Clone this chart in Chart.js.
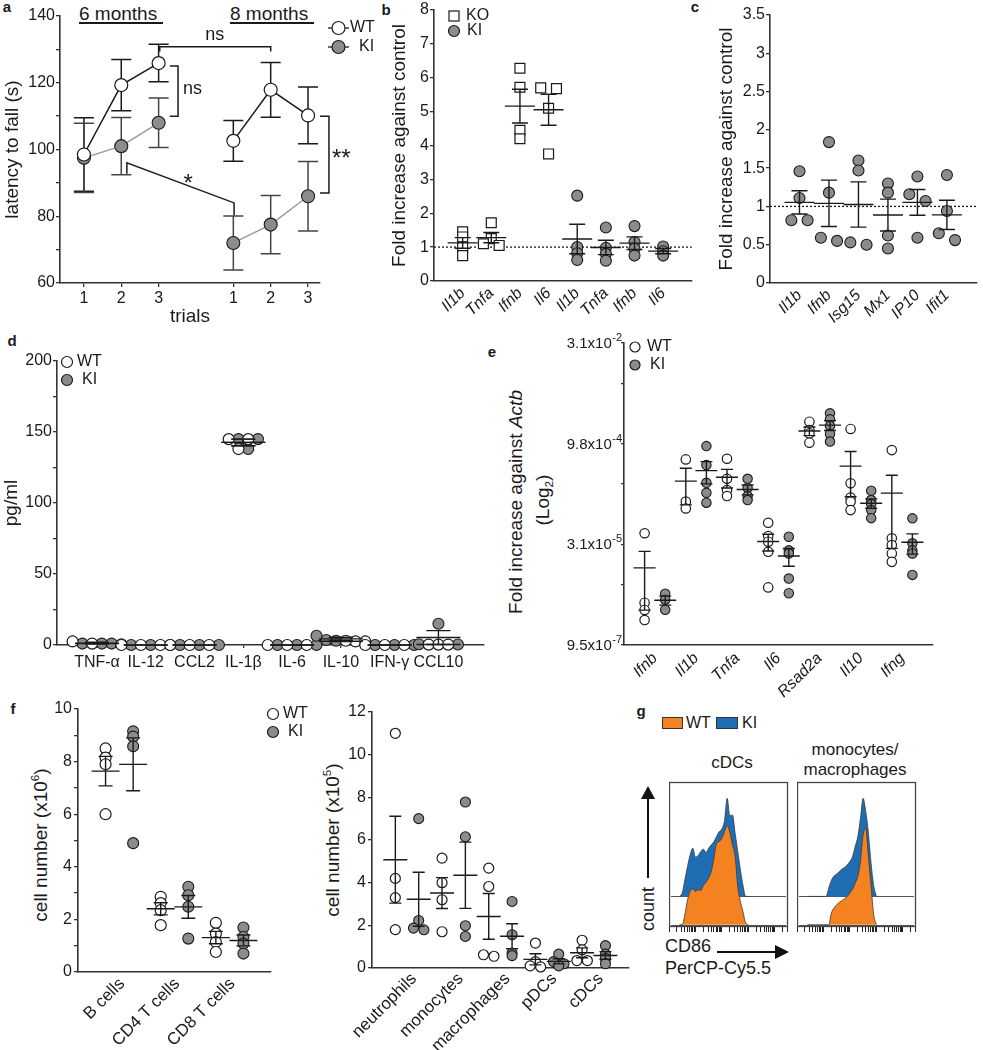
<!DOCTYPE html>
<html>
<head>
<meta charset="utf-8">
<title>Figure</title>
<script src="https://cdn.jsdelivr.net/npm/chart.js@4.4.1/dist/chart.umd.min.js"></script>
<style>
  body { margin: 0; background: #fff; }
  #fig { position: relative; width: 983px; height: 1050px; overflow: hidden; font-family: "Liberation Sans", Arial, Helvetica, sans-serif; color: #1a1a1a; }
  #fig canvas { position: absolute; }
  .t { position: absolute; white-space: nowrap; line-height: 1; transform: translate(-50%, -50%); }
  .l { transform: translate(0, -50%); }
  .r { transform: translate(-50%, -50%) rotate(-90deg); }
  .b { font-weight: bold; }
  sup, sub { font-size: 0.62em; line-height: 0; }
  #ov { position: absolute; left: 0; top: 0; }
</style>
</head>
<body>
<div id="fig">
  <div class="t b" style="left:7px;top:6px;font-size:15px">a</div>
  <div class="t b" style="left:386px;top:9px;font-size:15px">b</div>
  <div class="t b" style="left:695px;top:6px;font-size:15px">c</div>
  <div class="t b" style="left:12px;top:340px;font-size:15px">d</div>
  <div class="t b" style="left:492px;top:351px;font-size:15px">e</div>
  <div class="t b" style="left:13px;top:708px;font-size:15px">f</div>
  <div class="t b" style="left:641px;top:710px;font-size:15px">g</div>

  <div class="t l" style="left:79px;top:13px;font-size:19px">6 months</div>
  <div style="position:absolute;left:79px;top:22px;width:84px;height:1.5px;background:#1a1a1a"></div>
  <div class="t l" style="left:230px;top:13px;font-size:19px">8 months</div>
  <div style="position:absolute;left:230px;top:22px;width:84px;height:1.5px;background:#1a1a1a"></div>

  <div class="t r" style="left:515px;top:502px;font-size:19px">Fold increase against <i>Actb</i></div>
  <div class="t r" style="left:542px;top:500px;font-size:19px">(Log<sub>2</sub>)</div>
  <div class="t r" style="left:40px;top:845px;font-size:19px">cell number (x10<sup>6</sup>)</div>
  <div class="t r" style="left:332px;top:840px;font-size:19px">cell number (x10<sup>5</sup>)</div>

  <div style="position:absolute;left:662px;top:717px;width:19px;height:10px;background:#F58220;border:1px solid #333"></div>
  <div class="t l" style="left:686px;top:723px;font-size:16px">WT</div>
  <div style="position:absolute;left:716px;top:717px;width:20px;height:10px;background:#1F6EB4;border:1px solid #333"></div>
  <div class="t l" style="left:742px;top:723px;font-size:16px">KI</div>
  <div class="t" style="left:732px;top:762px;font-size:17px">cDCs</div>
  <div class="t" style="left:855px;top:749px;font-size:17px">monocytes/</div>
  <div class="t" style="left:855px;top:769px;font-size:17px">macrophages</div>
  <div class="t r" style="left:648px;top:909px;font-size:18px">count</div>
  <div class="t l" style="left:665px;top:946px;font-size:18px">CD86</div>
  <div class="t l" style="left:665px;top:968px;font-size:18px">PerCP-Cy5.5</div>

  <svg id="ov" width="983" height="1050">
    <line x1="648" y1="878" x2="648" y2="797" stroke="#111" stroke-width="2"/>
    <polygon points="648,786 641,799 655,799" fill="#111"/>
    <line x1="717" y1="952" x2="777" y2="952" stroke="#111" stroke-width="2"/>
    <polygon points="789,952 775,945 775,959" fill="#111"/>
  </svg>
</div>
<script>
const FONT = '"Liberation Sans", Arial, Helvetica, sans-serif';
const INK = '#1a1a1a', GREY = '#8c8c8c', LINE = '#333';
Chart.defaults.font.family = FONT;
Chart.defaults.font.size = 16;
Chart.defaults.color = INK;

// ---- a: latency to fall, mean and SEM per trial
const aTrials = ['1', '2', '3', '1', '2', '3'];
const aWT6 = [98.5, 119.3, 125.9], aWT6Sem = [11.0, 7.7, 5.6];
const aKI6 = [97.5, 101.0, 108.0], aKI6Sem = [10.4, 8.6, 7.4];
const aWT8 = [102.6, 117.9, 110.2], aWT8Sem = [6.1, 8.2, 8.5];
const aKI8 = [72.0, 77.5, 86.0], aKI8Sem = [8.1, 8.7, 10.4];

// ---- b: fold increase, KO vs KI
const bGenes = ['Il1b', 'Tnfa', 'Ifnb', 'Il6'];
const bKO = [[1.45, 1.3, 1.0, 0.75], [1.72, 1.25, 1.1, 1.05], [6.28, 5.72, 4.45, 4.2], [5.7, 5.68, 5.1, 3.75]];
const bKI = [[2.52, 1.0, 0.82, 0.62], [1.58, 0.98, 0.8, 0.6], [1.62, 1.15, 0.95, 0.75], [1.02, 0.88, 0.75]];

// ---- c: fold increase, KI
const cGenes = ['Il1b', 'Ifnb', 'Isg15', 'Mx1', 'IP10', 'Ifit1'];
const cKI = [[1.46, 1.11, 0.82, 0.82], [1.84, 1.18, 0.55, 0.59], [1.6, 1.47, 0.53, 0.5],
             [1.3, 1.18, 0.62, 0.45], [1.39, 1.16, 1.07, 0.59], [1.41, 0.94, 0.56, 0.65]];

// ---- d: cytokines pg/ml
const dCyto = ['TNF-α', 'IL-12', 'CCL2', 'IL-1β', 'IL-6', 'IL-10', 'IFN-γ', 'CCL10'];
const dWT = [[0.5, 1, 2.5], [0, 0, 0], [0, 0, 0], [145, 145, 138], [0, 0, 0], [2.5, 3, 2.5], [0, 0, 0], [0.3, 0.3, 0.3]];
const dKI = [[1, 1, 1], [0, 0, 0], [0, 0, 0], [145, 145, 138], [0, 0, 0], [3, 3.5, 6.5], [0, 0, 0], [15, 0.5, 0.3]];

// ---- e: fold increase against Actb (log2 axis)
const eGenes = ['Ifnb', 'Il1b', 'Tnfa', 'Il6', 'Rsad2a', 'Il10', 'Ifng'];
const eWT = [[4.47e-5, 4.09e-6, 3.19e-6, 2.25e-6], [5.68e-4, 1.33e-4, 1.05e-4], [5.81e-4, 2.91e-4, 1.98e-4, 1.61e-4],
             [6.40e-5, 4.05e-5, 3.34e-5, 2.36e-5, 6.93e-6], [2.08e-3, 1.56e-3, 1.39e-3, 1.01e-3],
             [1.62e-3, 2.49e-4, 1.53e-4, 1.33e-4, 9.91e-5], [7.82e-4, 3.76e-5, 2.97e-5, 2.23e-5, 1.67e-5]];
const eKI = [[5.58e-6, 4.54e-6, 3.21e-6], [8.98e-4, 4.68e-4, 2.54e-4, 1.80e-4, 1.28e-4], [2.91e-4, 2.13e-4, 1.61e-4, 1.40e-4],
             [3.97e-5, 2.48e-5, 2.23e-5, 9.40e-6, 5.66e-6], [2.78e-3, 2.26e-3, 1.80e-3, 1.36e-3, 1.05e-3],
             [1.93e-4, 1.40e-4, 1.22e-4, 9.91e-5, 7.52e-5], [7.46e-5, 3.16e-5, 2.48e-5, 2.23e-5, 1.065e-5]];
const eTickVals = [-5, -10, -15, -20];
const eTickMant = ['3.1x10', '9.8x10', '3.1x10', '9.5x10'];
const eTickExp = ['-2', '-4', '-5', '-7'];

// ---- f: cell numbers
const fLymph = ['B cells', 'CD4 T cells', 'CD8 T cells'];
const fLymphWT = [[8.5, 8.15, 7.9, 6.0], [2.86, 2.62, 2.35, 1.78], [1.87, 1.46, 1.14, 0.76]];
const fLymphKI = [[9.15, 8.95, 8.58, 4.9], [3.24, 2.92, 2.48, 1.27], [1.69, 1.33, 1.08, 0.7]];
const fMyeloid = ['neutrophils', 'monocytes', 'macrophages', 'pDCs', 'cDCs'];
const fMyeloidWT = [[11.0, 4.2, 3.3, 1.8], [5.15, 4.0, 3.2, 1.7], [4.68, 3.82, 0.62, 0.55], [1.17, 0.3, 0.1, 0.05], [1.3, 0.85, 0.35, 0.35]];
const fMyeloidKI = [[7.0, 2.23, 1.87, 1.79], [7.78, 6.15, 1.98, 1.48], [3.12, 1.56, 0.7, 0.58], [0.65, 0.3, 0.2, 0.1], [1.05, 0.65, 0.45, 0.2]];

// ---- g: CD86 histograms (log channel, counts)
const gChannel = [0.4, 0.5, 0.6, 0.7, 0.8, 0.9, 1.0, 1.1, 1.2, 1.3, 1.4, 1.5, 1.6, 1.7, 1.8, 1.9, 2.0, 2.1, 2.2, 2.3, 2.4, 2.5, 2.6, 2.7, 2.8, 2.9, 3.0];
const gCdcWT  = [0, 0, 30, 75, 100, 108, 100, 105, 103, 118, 128, 140, 160, 200, 245, 250, 260, 280, 298, 278, 240, 205, 115, 70, 38, 5, 0];
const gCdcKI  = [0, 10, 50, 90, 125, 145, 118, 122, 135, 142, 132, 145, 155, 165, 180, 195, 203, 228, 295, 242, 245, 190, 135, 80, 32, 0, 0];
const gMonoWT = [0, 0, 0, 0, 0, 0, 0, 0, 0, 35, 50, 60, 67, 72, 78, 85, 95, 107, 125, 145, 190, 270, 290, 205, 118, 30, 0];
const gMonoKI = [0, 0, 0, 0, 0, 0, 0, 0, 25, 48, 61, 67, 75, 82, 87, 95, 105, 120, 150, 180, 235, 295, 255, 190, 100, 32, 0];
const G_STAGGER = 85;

const fig = document.getElementById('fig');
const range = (a, b, s) => { const r = []; for (let v = a; v <= b + 1e-9; v += s) r.push(+v.toFixed(6)); return r; };

function mk(box, area, cfg) {
  const cv = document.createElement('canvas');
  cv.width = box.w; cv.height = box.h;
  cv.style.left = box.x + 'px'; cv.style.top = box.y + 'px';
  cv.style.width = box.w + 'px'; cv.style.height = box.h + 'px';
  fig.appendChild(cv);
  const o = cfg.options;
  o.responsive = false;
  o.animation = false;
  o.events = [];
  o.layout = {padding: {top: area.t - box.y, right: box.x + box.w - area.r, left: 0, bottom: 0}};
  o.scales.y.afterFit = s => { s.width = area.l - box.x; s.paddingTop = 0; s.paddingBottom = 0; };
  o.scales.x.afterFit = s => { s.height = box.y + box.h - area.b; s.paddingLeft = 0; s.paddingRight = 0; };
  o.plugins = Object.assign({legend: {display: false}, tooltip: {enabled: false}}, o.plugins || {});
  return new Chart(cv, cfg);
}

function xScale(min, max, at, labels, o = {}) {
  return {
    type: 'linear', min, max,
    afterBuildTicks: s => { s.ticks = at.map(v => ({value: v})); },
    ticks: {callback: (v, i) => labels[i], autoSkip: false, maxRotation: o.rot || 0, minRotation: o.rot || 0,
      padding: o.pad == null ? 3 : o.pad, font: {size: o.size || 16, style: o.italic ? 'italic' : 'normal'}, color: INK},
    grid: {display: !!o.tick, drawOnChartArea: false, drawTicks: !!o.tick, tickLength: o.tick || 0, color: LINE, lineWidth: 1.3},
    border: {display: true, color: LINE, width: 1.6},
    title: o.title ? {display: true, text: o.title, font: {size: 19}, color: INK, padding: {top: 0, bottom: o.titlePad || 0}} : {display: false}
  };
}
function yScale(min, max, at, label, o = {}) {
  return {
    type: 'linear', min, max,
    afterBuildTicks: s => { s.ticks = at.map(v => ({value: v})); },
    ticks: {callback: v => label(v), padding: o.pad == null ? 1 : o.pad, font: {size: 16}, color: INK},
    grid: {display: true, drawOnChartArea: false, drawTicks: true, tickLength: o.tick || 4, color: LINE, lineWidth: 1.3},
    border: {display: true, color: LINE, width: 1.6},
    title: o.title ? {display: true, text: o.title, font: {size: 19}, color: INK, padding: {top: o.titlePad || 0, bottom: 0}} : {display: false}
  };
}

function text(ctx, s, x, y, size, align) {
  ctx.font = `${size}px ${FONT}`;
  ctx.fillStyle = INK; ctx.textAlign = align || 'left'; ctx.textBaseline = 'middle';
  ctx.fillText(s, x, y);
}
function dot(ctx, x, y, r, fill) {
  ctx.beginPath(); ctx.arc(x, y, r, 0, 2 * Math.PI);
  ctx.fillStyle = fill; ctx.fill();
  ctx.lineWidth = 1.2; ctx.strokeStyle = INK; ctx.stroke();
}

// spread points that sit on (nearly) the same value side by side
function swarm(vals, thresh, step) {
  const idx = vals.map((v, i) => i).sort((a, b) => vals[b] - vals[a]);
  const off = vals.map(() => 0);
  let cl = [];
  const flush = () => { cl.forEach((k, j) => { off[k] = (j - (cl.length - 1) / 2) * step; }); cl = []; };
  idx.forEach(i => {
    if (cl.length && vals[cl[cl.length - 1]] - vals[i] >= thresh) flush();
    cl.push(i);
  });
  flush();
  return off;
}
function dots(groups, centers, thresh, step, log) {
  const pts = [];
  groups.forEach((vals, g) => {
    const off = swarm(vals, thresh, step);
    vals.forEach((v, i) => pts.push({x: centers[g] + off[i], y: log ? Math.log2(v) : v}));
  });
  return pts;
}
function pairDots(wt, ki, centers, thresh, step) {
  const W = [], K = [];
  wt.forEach((wv, g) => {
    const comb = [], tag = [];
    wv.forEach((v, i) => { comb.push(v, ki[g][i]); tag.push(0, 1); });
    const off = swarm(comb, thresh, step);
    comb.forEach((v, i) => (tag[i] ? K : W).push({x: centers[g] + off[i], y: v}));
  });
  return [W, K];
}

function meanSem(sets, half, cap, log) {
  return {id: 'ms', afterDatasetsDraw(chart) {
    const {ctx} = chart, xs = chart.scales.x, ys = chart.scales.y;
    const tf = v => log ? Math.log2(v) : v;
    ctx.save(); ctx.lineWidth = 1.4; ctx.strokeStyle = INK;
    sets.forEach(s => s.groups.forEach((vals, g) => {
      const n = vals.length, m = vals.reduce((a, b) => a + b, 0) / n;
      const se = Math.sqrt(vals.reduce((a, b) => a + (b - m) ** 2, 0) / (n - 1) / n);
      const X = xs.getPixelForValue(s.centers[g]);
      const Y = ys.getPixelForValue(tf(m));
      const hi = ys.getPixelForValue(tf(m + se));
      const lo = (m - se > 0 || !log) ? ys.getPixelForValue(tf(m - se)) : ys.bottom;
      ctx.beginPath();
      ctx.moveTo(X - half, Y); ctx.lineTo(X + half, Y);
      if (se > 0) {
        ctx.moveTo(X, hi); ctx.lineTo(X, lo);
        ctx.moveTo(X - cap, hi); ctx.lineTo(X + cap, hi);
        ctx.moveTo(X - cap, lo); ctx.lineTo(X + cap, lo);
      }
      ctx.stroke();
    }));
    ctx.restore();
  }};
}
function legend(box, items) {
  return {id: 'lg', afterDraw(chart) {
    const ctx = chart.ctx; ctx.save();
    items.forEach(it => {
      const x = it.x - box.x, y = it.y - box.y;
      if (it.dash) {
        ctx.beginPath(); ctx.moveTo(x - 10.5, y); ctx.lineTo(x + 10.5, y);
        ctx.strokeStyle = INK; ctx.lineWidth = 1.3; ctx.stroke();
      }
      if (it.sq) {
        ctx.fillStyle = '#fff'; ctx.fillRect(x - 5, y - 5, 10, 10);
        ctx.strokeStyle = INK; ctx.lineWidth = 1.2; ctx.strokeRect(x - 5, y - 5, 10, 10);
      } else dot(ctx, x, y, it.r || 5.5, it.fill);
      text(ctx, it.label, it.tx - box.x, y, it.size || 16);
    });
    ctx.restore();
  }};
}
function refLine(v) {
  return {id: 'ref', beforeDatasetsDraw(chart) {
    const {ctx, chartArea} = chart, y = chart.scales.y.getPixelForValue(v);
    ctx.save(); ctx.setLineDash([2, 2]); ctx.lineWidth = 1.3; ctx.strokeStyle = INK;
    ctx.beginPath(); ctx.moveTo(chartArea.left, y); ctx.lineTo(chartArea.right, y); ctx.stroke();
    ctx.restore();
  }};
}

const wtDot = r => ({pointRadius: r, pointBackgroundColor: '#fff', pointBorderColor: INK, pointBorderWidth: 1.2, clip: false});
const kiDot = r => ({pointRadius: r, pointBackgroundColor: GREY, pointBorderColor: INK, pointBorderWidth: 1.1, clip: false});

// ================= a =================
const aBox = {x: 0, y: 0, w: 380, h: 330};
const aDeco = {
  id: 'aDeco',
  beforeDatasetsDraw(chart) {
    const {ctx} = chart, xs = chart.scales.x, ys = chart.scales.y;
    ctx.save(); ctx.lineWidth = 1.5;
    [[aWT6, aWT6Sem, 0, INK], [aKI6, aKI6Sem, 0, '#444'], [aWT8, aWT8Sem, 4, INK], [aKI8, aKI8Sem, 4, '#444']].forEach(([m, s, x0, col]) => {
      ctx.strokeStyle = col;
      m.forEach((v, i) => {
        const X = xs.getPixelForValue(x0 + i), hi = ys.getPixelForValue(v + s[i]), lo = ys.getPixelForValue(v - s[i]);
        ctx.beginPath();
        ctx.moveTo(X, hi); ctx.lineTo(X, lo);
        ctx.moveTo(X - 10, hi); ctx.lineTo(X + 10, hi);
        ctx.moveTo(X - 10, lo); ctx.lineTo(X + 10, lo);
        ctx.stroke();
      });
    });
    ctx.restore();
  },
  afterDraw(chart) {
    const {ctx} = chart, xs = chart.scales.x, ys = chart.scales.y;
    const P = (x, y) => [xs.getPixelForValue(x), ys.getPixelForValue(y)];
    ctx.save(); ctx.strokeStyle = INK; ctx.lineWidth = 1.5;
    [
      [[2.03, 129.4], [2.03, 130.8], [5, 130.8], [5, 129.4]],
      [[2.3, 125], [2.52, 125], [2.52, 110], [2.3, 110]],
      [[6.32, 110], [6.56, 110], [6.56, 87], [6.32, 87]],
      [[1.15, 92.7], [1.15, 96], [4.02, 84], [4.02, 80.3]]
    ].forEach(pts => {
      ctx.beginPath();
      pts.forEach((p, i) => { const [X, Y] = P(p[0], p[1]); i ? ctx.lineTo(X, Y) : ctx.moveTo(X, Y); });
      ctx.stroke();
    });
    text(ctx, 'ns', ...P(3.5, 134.3), 18, 'center');
    text(ctx, 'ns', P(2.52, 0)[0] + 5, ys.getPixelForValue(118), 18, 'left');
    text(ctx, '**', P(6.56, 0)[0] + 3, ys.getPixelForValue(97), 24, 'left');
    text(ctx, '*', ...P(2.79, 89.7), 24, 'center');
    ctx.restore();
  }
};
mk(aBox, {l: 60, t: 16, r: 320, b: 283}, {
  type: 'scatter',
  data: {datasets: [
    Object.assign({data: aWT6.map((v, i) => ({x: i, y: v})), showLine: true, borderColor: INK, borderWidth: 1.5}, wtDot(6.5)),
    Object.assign({data: aWT8.map((v, i) => ({x: i + 4, y: v})), showLine: true, borderColor: INK, borderWidth: 1.5}, wtDot(6.5)),
    Object.assign({data: aKI6.map((v, i) => ({x: i, y: v})), showLine: true, borderColor: '#9a9a9a', borderWidth: 1.5}, kiDot(6.5)),
    Object.assign({data: aKI8.map((v, i) => ({x: i + 4, y: v})), showLine: true, borderColor: '#9a9a9a', borderWidth: 1.5}, kiDot(6.5))
  ]},
  options: {scales: {
    x: xScale(-0.64, 6.32, [0, 1, 2, 4, 5, 6], aTrials, {tick: 4, pad: 2, title: 'trials', titlePad: 2}),
    y: yScale(60, 140, range(60, 140, 10), v => v % 20 === 0 ? v : '', {title: 'latency to fall (s)', titlePad: 1})
  }},
  plugins: [aDeco, legend(aBox, [
    {x: 338.5, y: 28, r: 6.5, fill: '#fff', dash: true, label: 'WT', tx: 350},
    {x: 338.5, y: 47, r: 6.5, fill: GREY, dash: true, label: 'KI', tx: 359}
  ])]
});

// ================= b =================
const bBox = {x: 370, y: 0, w: 330, h: 330};
mk(bBox, {l: 434, t: 10, r: 697, b: 281}, {
  type: 'scatter',
  data: {datasets: [
    Object.assign({data: dots(bKO, [1, 2, 3, 4], 0.12, 0.55), pointStyle: 'rect'}, wtDot(7)),
    Object.assign({data: dots(bKI, [5, 6, 7, 8], 0.12, 0.55)}, kiDot(5.5))
  ]},
  options: {scales: {
    x: xScale(0, 9, [1, 2, 3, 4, 5, 6, 7, 8], bGenes.concat(bGenes), {rot: 45, italic: true, size: 16, pad: 3}),
    y: yScale(0, 8, range(0, 8, 0.5), v => Number.isInteger(v) ? v : '', {title: 'Fold increase against control', titlePad: 18.6})
  }},
  plugins: [refLine(1), meanSem([{groups: bKO, centers: [1, 2, 3, 4]}, {groups: bKI, centers: [5, 6, 7, 8]}], 15, 8),
    legend(bBox, [{x: 454, y: 16, sq: true, label: 'KO', tx: 466}, {x: 454, y: 31, fill: GREY, label: 'KI', tx: 467}])]
});

// ================= c =================
mk({x: 700, y: 0, w: 283, h: 330}, {l: 770, t: 15, r: 983, b: 283}, {
  type: 'scatter',
  data: {datasets: [Object.assign({data: dots(cKI, [1, 2, 3, 4, 5, 6], 0.1, 0.55)}, kiDot(5.5))]},
  options: {scales: {
    x: xScale(0, 7, [1, 2, 3, 4, 5, 6], cGenes, {rot: 45, italic: true, size: 16, pad: 3}),
    y: yScale(0, 3.5, range(0, 3.5, 0.25), v => Math.abs(v * 2 - Math.round(v * 2)) < 1e-6 ? String(v) : '', {title: 'Fold increase against control', titlePad: 15.6})
  }},
  plugins: [refLine(1), meanSem([{groups: cKI, centers: [1, 2, 3, 4, 5, 6]}], 15, 8)]
});

// ================= d =================
const dBox = {x: 0, y: 330, w: 490, h: 345};
const dCenters = [0, 1, 2, 3, 4, 5, 6, 7];
const [dWTpts, dKIpts] = pairDots(dWT, dKI, dCenters, 6, 0.2);
mk(dBox, {l: 57, t: 361, r: 484, b: 645}, {
  type: 'scatter',
  data: {datasets: [
    Object.assign({data: dWTpts}, wtDot(5.5)),
    Object.assign({data: dKIpts}, kiDot(5.5))
  ]},
  options: {scales: {
    x: xScale(-0.82, 7.92, dCenters, dCyto, {tick: 3, pad: 5, size: 16}),
    y: yScale(0, 200, range(0, 200, 25), v => v % 50 === 0 ? v : '', {title: 'pg/ml', titlePad: 0.6})
  }},
  plugins: [meanSem([{groups: dWT, centers: dCenters}, {groups: dKI, centers: dCenters}], 22, 12),
    legend(dBox, [{x: 67, y: 362, fill: '#fff', label: 'WT', tx: 77}, {x: 67, y: 380, fill: GREY, label: 'KI', tx: 82}])]
});

// ================= e =================
const eBox = {x: 490, y: 330, w: 493, h: 380};
const eTickPlugin = {id: 'eTicks', afterDraw(chart) {
  const {ctx} = chart, ys = chart.scales.y, right = chart.chartArea.left - 2;
  ctx.save();
  eTickVals.forEach((v, i) => {
    const y = ys.getPixelForValue(v);
    ctx.font = `11px ${FONT}`; ctx.fillStyle = INK; ctx.textAlign = 'right'; ctx.textBaseline = 'middle';
    ctx.fillText(eTickExp[i], right, y - 5);
    const w = ctx.measureText(eTickExp[i]).width;
    ctx.font = `15px ${FONT}`;
    ctx.fillText(eTickMant[i], right - w - 0.5, y + 1);
  });
  ctx.restore();
}};
const eWTc = [1, 3, 5, 7, 9, 11, 13], eKIc = [2, 4, 6, 8, 10, 12, 14];
mk(eBox, {l: 624, t: 343, r: 933, b: 645}, {
  type: 'scatter',
  data: {datasets: [
    Object.assign({data: dots(eWT, eWTc, 0.1, 0, true)}, wtDot(4.7)),
    Object.assign({data: dots(eKI, eKIc, 0.1, 0, true)}, kiDot(4.7))
  ]},
  options: {scales: {
    x: xScale(0, 15, [1.5, 3.5, 5.5, 7.5, 9.5, 11.5, 13.5], eGenes, {rot: 45, italic: true, size: 16, pad: 4}),
    y: yScale(-20, -5, [-20, -17, -15, -12, -10, -7, -5], () => '', {tick: 3})
  }},
  plugins: [meanSem([{groups: eWT, centers: eWTc}, {groups: eKI, centers: eKIc}], 11, 6, true), eTickPlugin,
    legend(eBox, [{x: 635, y: 347, r: 5, fill: '#fff', label: 'WT', tx: 647}, {x: 635, y: 365, r: 5, fill: GREY, label: 'KI', tx: 650}])]
});

// ================= f left =================
const fLBox = {x: 0, y: 675, w: 330, h: 375};
mk(fLBox, {l: 78, t: 709, r: 271, b: 972}, {
  type: 'scatter',
  data: {datasets: [
    Object.assign({data: dots(fLymphWT, [1, 3, 5], 0.1, 0)}, wtDot(5.5)),
    Object.assign({data: dots(fLymphKI, [2, 4, 6], 0.1, 0)}, kiDot(5.5))
  ]},
  options: {scales: {
    x: xScale(0, 7, [1.6, 3.6, 5.6], fLymph, {rot: 45, size: 17, pad: 2}),
    y: yScale(0, 10, range(0, 10, 1), v => v % 2 === 0 ? v : '', {pad: 2})
  }},
  plugins: [meanSem([{groups: fLymphWT, centers: [1, 3, 5]}, {groups: fLymphKI, centers: [2, 4, 6]}], 14, 7),
    legend(fLBox, [{x: 273, y: 714, fill: '#fff', label: 'WT', tx: 283}, {x: 273, y: 732, fill: GREY, label: 'KI', tx: 288}])]
});

// ================= f right =================
const fRwc = [1, 3, 5, 7, 9], fRkc = [2, 4, 6, 8, 10];
mk({x: 310, y: 675, w: 325, h: 375}, {l: 372, t: 712, r: 630, b: 968}, {
  type: 'scatter',
  data: {datasets: [
    Object.assign({data: dots(fMyeloidWT, fRwc, 0.1, 0.45)}, wtDot(5)),
    Object.assign({data: dots(fMyeloidKI, fRkc, 0.1, 0.45)}, kiDot(5))
  ]},
  options: {scales: {
    x: xScale(0, 11, [1.8, 3.8, 5.8, 7.8, 9.8], fMyeloid, {rot: 45, size: 17, pad: 1}),
    y: yScale(0, 12, range(0, 12, 1), v => v % 2 === 0 ? v : '', {pad: 2})
  }},
  plugins: [meanSem([{groups: fMyeloidWT, centers: fRwc}, {groups: fMyeloidKI, centers: fRkc}], 12, 6)]
});

// ================= g =================
function gBoxPlugin() {
  return {id: 'gBox',
    beforeDatasetsDraw(chart) {
      const {ctx, chartArea: a} = chart, ys = chart.scales.y;
      ctx.save(); ctx.strokeStyle = '#555'; ctx.lineWidth = 1;
      [0, G_STAGGER].forEach(v => {
        const y = Math.round(ys.getPixelForValue(v)) + 0.5;
        ctx.beginPath(); ctx.moveTo(a.left + 2, y); ctx.lineTo(a.right - 2, y); ctx.stroke();
      });
      ctx.restore();
    },
    afterDraw(chart) {
      const {ctx, chartArea: a} = chart;
      ctx.save(); ctx.strokeStyle = '#444'; ctx.lineWidth = 1.3;
      ctx.strokeRect(a.left + 0.5, a.top + 0.5, a.right - a.left - 1, a.bottom - a.top - 1);
      ctx.restore();
    }};
}
function histChart(box, area, wt, ki) {
  const logTicks = [];
  for (let d = 0; d < 5; d++) for (let k = 1; k < 10; k++) { const v = d + Math.log10(k); if (v <= 4.5) logTicks.push(v); }
  mk(box, area, {
    type: 'line',
    data: {datasets: [
      {data: gChannel.map((c, i) => ({x: c, y: wt[i]})), fill: 'origin', backgroundColor: '#F58220', borderColor: '#3a3a3a', borderWidth: 0.8, pointRadius: 0, cubicInterpolationMode: 'monotone'},
      {data: gChannel.map((c, i) => ({x: c, y: ki[i] + G_STAGGER})), fill: {value: G_STAGGER}, backgroundColor: '#1F6EB4', borderColor: '#3a3a3a', borderWidth: 0.8, pointRadius: 0, cubicInterpolationMode: 'monotone'}
    ]},
    options: {scales: {
      x: {type: 'linear', min: 0, max: 4.5, afterBuildTicks: s => { s.ticks = logTicks.map(v => ({value: v})); },
          ticks: {display: false}, grid: {display: true, drawOnChartArea: false, drawTicks: true, tickLength: 5, color: '#222', lineWidth: 1},
          border: {display: false}},
      y: {type: 'linear', min: -7, max: 429, ticks: {display: false}, grid: {display: false}, border: {display: false}}
    }},
    plugins: [gBoxPlugin()]
  });
}
histChart({x: 669, y: 775, w: 124, h: 165}, {l: 669, t: 782, r: 788, b: 927}, gCdcWT, gCdcKI);
histChart({x: 797, y: 775, w: 124, h: 165}, {l: 797, t: 782, r: 916, b: 927}, gMonoWT, gMonoKI);
</script>
</body>
</html>
